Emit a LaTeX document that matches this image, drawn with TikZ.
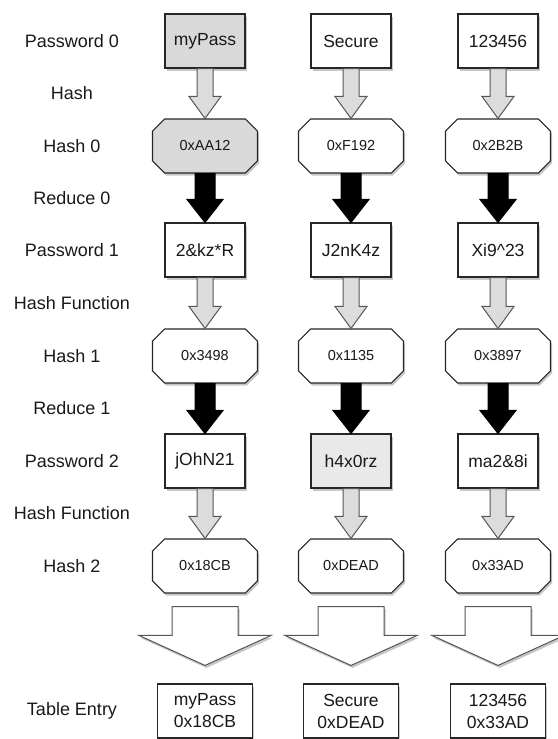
\documentclass[tikz,border=0pt]{standalone}
\usepackage{fontspec}
\setmainfont{Liberation Sans}
\usetikzlibrary{shapes.misc,shadows,calc}
\definecolor{boxgray}{HTML}{D9D9D9}
\definecolor{boxlight}{HTML}{E9E9E9}
\definecolor{arrowfill}{HTML}{DCDCDC}
\definecolor{edgegray}{HTML}{555555}
\tikzset{
  shad/.style={drop shadow={shadow xshift=1.5pt,shadow yshift=-2.5pt,opacity=0.22,fill=black}},
  lbl/.style={font=\fontsize{18}{21}\selectfont,text=black!90},
  pwbox/.style={draw=black!85,line width=1.1pt,fill=white,minimum width=80pt,minimum height=54pt,
    inner sep=0pt,font=\fontsize{17.5}{21}\selectfont,text=black!90,shad},
  hashbox/.style={chamfered rectangle,chamfered rectangle xsep=7pt,chamfered rectangle ysep=7pt,
    draw=black!85,line width=1.1pt,fill=white,minimum width=105pt,minimum height=54pt,
    inner sep=0pt,font=\fontsize{14.5}{17}\selectfont,text=black!90,shad},
  tabbox/.style={pwbox,minimum width=95pt,align=center,font=\fontsize{17.5}{22}\selectfont},
  hollowarrow/.style={draw=edgegray,line width=1pt,fill=arrowfill,line join=miter},
  blackarrow/.style={draw=black,line width=1pt,fill=black,line join=miter},
  bigarrow/.style={draw=edgegray,line width=1pt,fill=white,line join=miter,shad}
}
% #1 style, #2 start, #3 tip, #4 half shaft, #5 half head, #6 head length
\newcommand\blockarrow[6]{%
  \draw[#1] let \p1=(#2), \p2=(#3) in
    (\x1-#4,\y1) -- (\x1+#4,\y1) -- (\x1+#4,\y2+#6) -- (\x1+#5,\y2+#6) --
    (\x1,\y2) -- (\x1-#5,\y2+#6) -- (\x1-#4,\y2+#6) -- cycle;}
\begin{document}
\begin{tikzpicture}[x=1pt,y=-1pt]
\useasboundingbox (0,0) rectangle (557,739);
% labels
\node[lbl] (l0) at (72,41) {Password 0};
\node[lbl] (l1) at (72,93) {Hash};
\node[lbl] (l2) at (72,146) {Hash 0};
\node[lbl] (l3) at (72,198) {Reduce 0};
\node[lbl] (l4) at (72,250) {Password 1};
\node[lbl] (l5) at (72,303) {Hash Function};
\node[lbl] (l6) at (72,356) {Hash 1};
\node[lbl] (l7) at (72,408) {Reduce 1};
\node[lbl] (l8) at (72,461) {Password 2};
\node[lbl] (l9) at (72,513) {Hash Function};
\node[lbl] (l10) at (72,566) {Hash 2};
\node[lbl] (l11) at (72,711) {Table Entry};
% column 1
\node[pwbox,fill=boxgray] (a0) at (205,41) {myPass};
\node[hashbox,fill=boxgray] (a1) at (205,146) {0xAA12};
\node[pwbox] (a2) at (205,250) {2\&kz*R};
\node[hashbox] (a3) at (205,356) {0x3498};
\node[pwbox] (a4) at (205,461) {jOhN21};
\node[hashbox] (a5) at (205,566) {0x18CB};
\node[tabbox] (a6) at (205,711) {myPass\\0x18CB};
% column 2
\node[pwbox] (b0) at (351,41) {Secure};
\node[hashbox] (b1) at (351,146) {0xF192};
\node[pwbox] (b2) at (351,250) {J2nK4z};
\node[hashbox] (b3) at (351,356) {0x1135};
\node[pwbox,fill=boxlight] (b4) at (351,461) {h4x0rz};
\node[hashbox] (b5) at (351,566) {0xDEAD};
\node[tabbox] (b6) at (351,711) {Secure\\0xDEAD};
% column 3
\node[pwbox] (c0) at (498,41) {123456};
\node[hashbox] (c1) at (498,146) {0x2B2B};
\node[pwbox] (c2) at (498,250) {Xi9\textasciicircum23};
\node[hashbox] (c3) at (498,356) {0x3897};
\node[pwbox] (c4) at (498,461) {ma2\&8i};
\node[hashbox] (c5) at (498,566) {0x33AD};
\node[tabbox] (c6) at (498,711) {123456\\0x33AD};
% arrows
\foreach \c in {a,b,c}{
  \blockarrow{hollowarrow}{\c0.south}{\c1.north}{8pt}{16pt}{22pt}
  \blockarrow{blackarrow}{\c1.south}{\c2.north}{10pt}{18pt}{23pt}
  \blockarrow{hollowarrow}{\c2.south}{\c3.north}{8pt}{16pt}{22pt}
  \blockarrow{blackarrow}{\c3.south}{\c4.north}{10pt}{18pt}{23pt}
  \blockarrow{hollowarrow}{\c4.south}{\c5.north}{8pt}{16pt}{22pt}
  \blockarrow{bigarrow}{$(\c5.south)+(0,13)$}{$(\c6.north)+(0,-18)$}{33pt}{66pt}{30pt}
}
\end{tikzpicture}
\end{document}
